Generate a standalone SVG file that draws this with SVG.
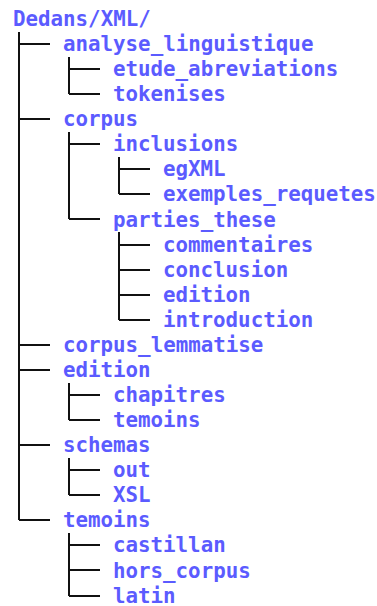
<svg xmlns="http://www.w3.org/2000/svg" width="377" height="606" viewBox="0 0 377 606">
<style>
text{font-family:"DejaVu Sans Mono","Liberation Mono",monospace;font-weight:bold;font-size:20.8px;fill:#5b5bff}
.c{fill:none;stroke:#111;stroke-width:2;stroke-linecap:butt;stroke-linejoin:miter}
</style>
<rect width="377" height="606" fill="#fff"/>
<g id="connectors" class="c">
<path d="M19 32V520M19 44H50M19 119H50M19 345H50M19 370H50M19 445H50M19 520H50"/>
<path d="M69 57V94M69 69H100M69 94H100"/>
<path d="M69 132V219M69 144H100M69 219H100"/>
<path d="M119 157V194M119 169H150M119 194H150"/>
<path d="M119 232V320M119 245H150M119 270H150M119 295H150M119 320H150"/>
<path d="M69 383V420M69 395H100M69 420H100"/>
<path d="M69 458V495M69 470H100M69 495H100"/>
<path d="M69 533V596M69 545H100M69 570H100M69 596H100"/>
</g>
<g id="n0"><text x="13" y="26">Dedans/XML/</text></g>
<g id="n1"><text x="63" y="51">analyse_linguistique</text></g>
<g id="n2"><text x="113" y="76.1">etude_abreviations</text></g>
<g id="n3"><text x="113" y="101.1">tokenises</text></g>
<g id="n4"><text x="63" y="126.2">corpus</text></g>
<g id="n5"><text x="113" y="151.3">inclusions</text></g>
<g id="n6"><text x="163" y="176.4">egXML</text></g>
<g id="n7"><text x="163" y="201.4">exemples_requetes</text></g>
<g id="n8"><text x="113" y="226.5">parties_these</text></g>
<g id="n9"><text x="163" y="251.6">commentaires</text></g>
<g id="n10"><text x="163" y="276.6">conclusion</text></g>
<g id="n11"><text x="163" y="301.7">edition</text></g>
<g id="n12"><text x="163" y="326.8">introduction</text></g>
<g id="n13"><text x="63" y="351.8">corpus_lemmatise</text></g>
<g id="n14"><text x="63" y="376.9">edition</text></g>
<g id="n15"><text x="113" y="402">chapitres</text></g>
<g id="n16"><text x="113" y="427">temoins</text></g>
<g id="n17"><text x="63" y="452.1">schemas</text></g>
<g id="n18"><text x="113" y="477.2">out</text></g>
<g id="n19"><text x="113" y="502.3">XSL</text></g>
<g id="n20"><text x="63" y="527.3">temoins</text></g>
<g id="n21"><text x="113" y="552.4">castillan</text></g>
<g id="n22"><text x="113" y="577.5">hors_corpus</text></g>
<g id="n23"><text x="113" y="602.5">latin</text></g>
</svg>
